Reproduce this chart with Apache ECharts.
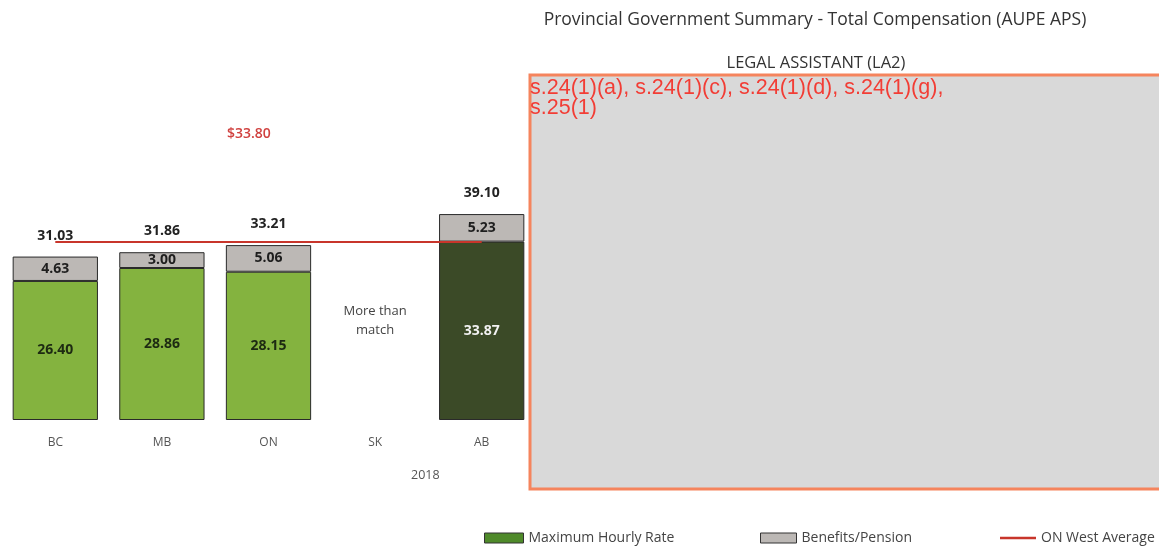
<!DOCTYPE html>
<html><head><meta charset="utf-8">
<script src="https://cdn.jsdelivr.net/npm/echarts@6/dist/echarts.min.js"></script>
<style>html,body{margin:0;padding:0;background:#fff}#c{width:1159px;height:550px}</style>
</head><body><div id="c"></div>
<script>
var categories = ['BC', 'MB', 'ON', 'SK', 'AB'];
var hourlyRate = [26.40, 28.86, 28.15, null, 33.87];
var benefits = [4.63, 3.00, 5.06, null, 5.23];
var totals = [31.03, 31.86, 33.21, null, 39.10];
var westAverage = [33.80, 33.80, 33.80, 33.80, 33.80];
var yearLabel = '2018';
var skNote = 'More than\nmatch';
var avgLabel = '$33.80';

var FONT = '"Open Sans", Lato, sans-serif';
var chart = echarts.init(document.getElementById('c'));
var GREEN = '#84b33f', DARK = '#3b4a27', GRAY = '#bcb8b5';
var legendText = {fontSize: 14, color: '#444', fontFamily: FONT};

var option = {
  animation: false,
  textStyle: {fontFamily: FONT},
  title: [
    {text: 'Provincial Government Summary - Total Compensation (AUPE APS)', left: 810, top: 6, textAlign: 'center',
     textStyle: {fontSize: 17.5, fontWeight: 'normal', color: '#333', fontFamily: FONT}},
    {text: 'LEGAL ASSISTANT (LA2)', left: 811, top: 50, textAlign: 'center',
     textStyle: {fontSize: 16.5, fontWeight: 'normal', color: '#333', fontFamily: FONT}}
  ],
  legend: [
    {left: 484, top: 531, padding: 0, itemWidth: 39, itemHeight: 10, itemGap: 4, textStyle: legendText,
     data: [{name: 'Maximum Hourly Rate', icon: 'rect', itemStyle: {color: '#4f8a2a', borderColor: '#333', borderWidth: 1}}]},
    {left: 760, top: 531, padding: 0, itemWidth: 36, itemHeight: 10, itemGap: 4, textStyle: legendText,
     data: [{name: 'Benefits/Pension', icon: 'rect', itemStyle: {color: GRAY, borderColor: '#333', borderWidth: 1}}]},
    {left: 1000, top: 531, padding: 0, itemWidth: 36, itemHeight: 10, textStyle: legendText, symbolKeepAspect: true,
     data: [{name: 'ON West Average', icon: 'path://M0,0 L36,0 L36,2.5 L0,2.5 Z', itemStyle: {color: '#c8352b'}}]}
  ],
  grid: {left: 2, width: 533, top: 104, height: 316},
  xAxis: {
    type: 'category', data: categories,
    axisLine: {show: false}, axisTick: {show: false},
    axisLabel: {color: '#555', fontSize: 12, margin: 17, fontFamily: FONT}
  },
  yAxis: {type: 'value', min: 0, max: 60, show: false, splitLine: {show: false}},
  series: [
    {
      name: 'Maximum Hourly Rate', type: 'bar', stack: 'tc', barWidth: '80%',
      data: hourlyRate.map(function (v, i) {
        return categories[i] === 'AB'
          ? {value: v, itemStyle: {color: DARK}, label: {color: '#f2f2f2'}}
          : v;
      }),
      itemStyle: {color: GREEN, borderColor: '#2a2a2a', borderWidth: 1},
      label: {show: true, position: 'inside', fontWeight: 'bold', fontSize: 14, color: '#1d2a12', fontFamily: FONT,
              formatter: function (p) { return p.value == null ? '' : p.value.toFixed(2); }}
    },
    {
      name: 'Benefits/Pension', type: 'bar', stack: 'tc', barWidth: '80%',
      data: benefits,
      itemStyle: {color: GRAY, borderColor: '#2a2a2a', borderWidth: 1},
      label: {show: true, position: 'inside', fontWeight: 'bold', fontSize: 14, color: '#1e1e1e', fontFamily: FONT,
              formatter: function (p) { return p.value == null ? '' : p.value.toFixed(2); }}
    },
    {
      name: 'Total', type: 'bar', stack: 'tc', barWidth: '80%',
      data: totals.map(function () { return 0; }),
      itemStyle: {color: 'transparent'},
      label: {show: true, position: 'top', distance: 14, fontWeight: 'bold', fontSize: 14, color: '#222', fontFamily: FONT,
              formatter: function (p) { var t = totals[p.dataIndex]; return t == null ? '' : t.toFixed(2); }}
    },
    {
      name: 'ON West Average', type: 'line', data: westAverage, symbol: 'none', z: 5,
      lineStyle: {color: '#c8352b', width: 2}, itemStyle: {color: '#c8352b'}
    }
  ]
};
chart.setOption(option);

var skPos = chart.convertToPixel({xAxisIndex: 0, yAxisIndex: 0}, ['SK', 19]);

chart.setOption({
  graphic: [
    {type: 'text', left: skPos[0] - 37, top: skPos[1] - 18, style: {text: skNote, fill: '#444', font: '13px ' + FONT, textAlign: 'center', lineHeight: 19, width: 74}},
    {type: 'text', left: 227, top: 127, style: {text: avgLabel, fill: '#d0413f', font: '600 14px ' + FONT}},
    {type: 'text', left: 411, top: 469, style: {text: yearLabel, fill: '#555', font: '12.5px ' + FONT}},
    {type: 'rect', shape: {x: 530, y: 75, width: 640, height: 414}, z: 100,
     style: {fill: '#d9d9d9', stroke: '#f5845d', lineWidth: 3}},
    {type: 'text', left: 530, top: 77, z: 101,
     style: {text: 's.24(1)(a), s.24(1)(c), s.24(1)(d), s.24(1)(g),\ns.25(1)', fill: '#f23d35', font: '21.5px "Liberation Sans", Arial, sans-serif', lineHeight: 20}}
  ]
});
</script>
</body></html>
